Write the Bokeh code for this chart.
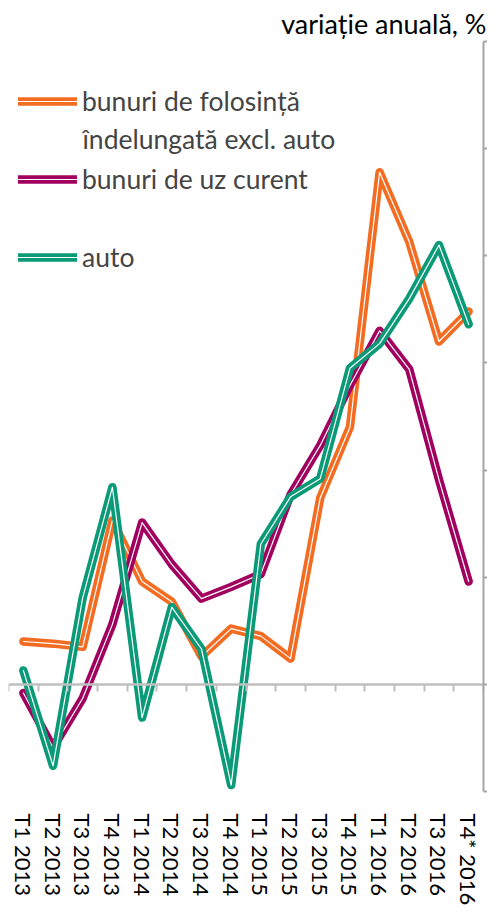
import numpy as np
from bokeh.plotting import figure
from bokeh.models import (LinearAxis, FixedTicker, Range1d, Legend, LegendItem, Label)
from bokeh.embed import file_html
from bokeh.resources import INLINE

categories = ["T1 2013", "T2 2013", "T3 2013", "T4 2013",
              "T1 2014", "T2 2014", "T3 2014", "T4 2014",
              "T1 2015", "T2 2015", "T3 2015", "T4 2015",
              "T1 2016", "T2 2016", "T3 2016", "T4* 2016"]
folosinta = [4.0, 3.8, 3.5, 15.3, 9.6, 7.7, 2.6, 5.2, 4.5, 2.4, 17.4, 24.0, 47.8, 41.3, 32.0, 34.8]
uz_curent = [-0.8, -5.9, -1.3, 5.6, 15.1, 11.2, 8.0, 9.1, 10.3, 17.7, 22.3, 27.9, 33.0, 29.4, 19.1, 9.6]
auto = [1.3, -7.6, 8.1, 18.4, -3.1, 7.2, 3.3, -9.4, 13.1, 17.5, 19.2, 29.5, 31.8, 36.0, 41.0, 33.6]
y_ticks = [-10, 0, 10, 20, 30, 40, 50, 60]

names = ["bunuri de folosință", "bunuri de uz curent", "auto"]
colors = ["#F36C21", "#A1005F", "#0A9A78"]

n = len(categories)
x = np.arange(n) + 0.5

FONT = "Lato"

p = figure(width=487, height=908, x_range=Range1d(0, n), y_range=Range1d(y_ticks[0], y_ticks[-1]),
           output_backend="svg", toolbar_location=None,
           x_axis_location=None, y_axis_location=None,
           min_border_left=8, min_border_right=4, min_border_top=41, min_border_bottom=116)
p.grid.visible = False
p.outline_line_color = None
p.background_fill_color = "white"

p.title.text = "variație anuală, %"
p.title.align = "right"
p.title.offset = -3
p.title.text_font = FONT
p.title.text_font_size = "27px"
p.title.text_font_style = "normal"
p.title.text_color = "black"
p.title.standoff = 3

zero_axis = LinearAxis(fixed_location=0, ticker=FixedTicker(ticks=list(range(n + 1))),
                       major_label_text_font_size="0px", major_label_standoff=0,
                       major_tick_in=0, major_tick_out=7,
                       axis_line_color="#BFBFBF", axis_line_width=2.5,
                       major_tick_line_color="#BFBFBF", major_tick_line_width=2,
                       minor_tick_line_color=None)
p.add_layout(zero_axis, "below")

lab_axis = LinearAxis(ticker=FixedTicker(ticks=list(x)),
                      major_label_overrides={float(xi): c for xi, c in zip(x, categories)},
                      major_label_orientation="vertical",
                      axis_line_color=None, major_tick_line_color=None, minor_tick_line_color=None,
                      major_label_standoff=16,
                      major_label_text_font=FONT, major_label_text_font_size="22px",
                      major_label_text_color="black")
p.add_layout(lab_axis, "below")

r_axis = LinearAxis(ticker=FixedTicker(ticks=y_ticks),
                    major_label_overrides={float(t): "" for t in y_ticks},
                    major_label_text_font_size="0px", major_label_standoff=0,
                    major_tick_in=0, major_tick_out=4,
                    axis_line_color="#A6A6A6", axis_line_width=2,
                    major_tick_line_color="#A6A6A6", major_tick_line_width=2,
                    minor_tick_line_color=None)
p.add_layout(r_axis, "right")

items = []
for name, col, ys in zip(names, colors, [folosinta, uz_curent, auto]):
    r1 = p.line(x, ys, line_color=col, line_width=8.5, line_join="round", line_cap="round")
    r2 = p.line(x, ys, line_color="white", line_width=1.2, line_join="round", line_cap="round")
    items.append(LegendItem(label=name, renderers=[r1, r2]))

legend = Legend(items=items, location=(10, 518), glyph_width=59, glyph_height=32,
                label_height=32, spacing=46, padding=0, margin=0,
                border_line_color=None, background_fill_alpha=0,
                label_text_font=FONT, label_text_font_size="26.5px", label_standoff=5)
p.add_layout(legend)

p.add_layout(Label(x=74, y=653, x_units="screen", y_units="screen",
                   text="îndelungată excl. auto", text_font=FONT, text_font_size="26.5px",
                   text_baseline="middle", text_align="left"))

open("out.html", "w").write(file_html(p, INLINE))
